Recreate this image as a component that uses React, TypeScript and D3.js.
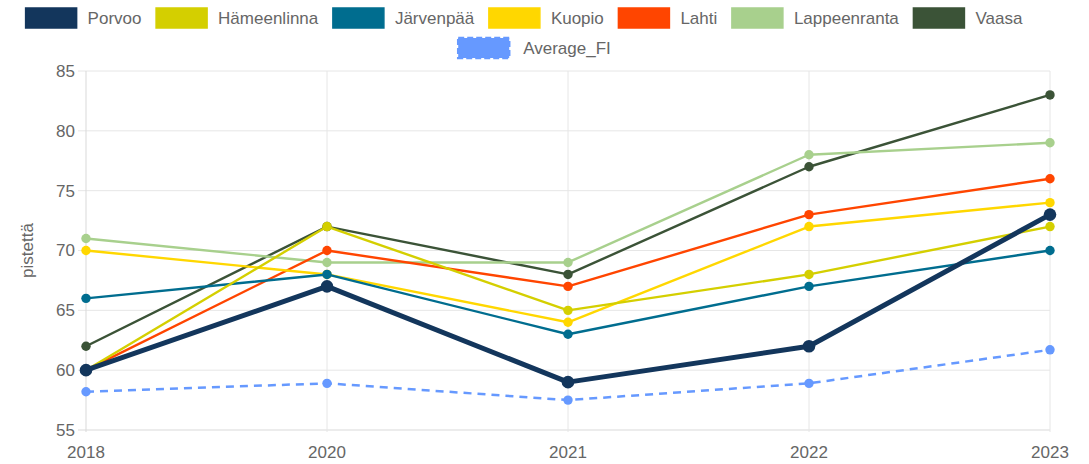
import React, { useEffect, useRef } from "react";
import * as d3 from "d3";

const years = ["2018", "2020", "2021", "2022", "2023"];
const seriesNames = ["Porvoo", "Hämeenlinna", "Järvenpää", "Kuopio", "Lahti", "Lappeenranta", "Vaasa", "Average_FI"];
const porvoo = [60, 67, 59, 62, 73];
const hameenlinna = [60, 72, 65, 68, 72];
const jarvenpaa = [66, 68, 63, 67, 70];
const kuopio = [70, 68, 64, 72, 74];
const lahti = [60, 70, 67, 73, 76];
const lappeenranta = [71, 69, 69, 78, 79];
const vaasa = [62, 72, 68, 77, 83];
const averageFI = [58.2, 58.9, 57.5, 58.9, 61.7];
const yTicks = [55, 60, 65, 70, 75, 80, 85];

const seriesValues = [porvoo, hameenlinna, jarvenpaa, kuopio, lahti, lappeenranta, vaasa, averageFI];
const colors = ["#13365c", "#d4cf00", "#006d8f", "#ffd700", "#ff4500", "#a8d08d", "#3b5337", "#6699ff"];

const W = 1089;
const H = 464;
const FONT = "'Liberation Sans', Arial, sans-serif";

export default function App() {
  const ref = useRef<SVGSVGElement>(null);

  useEffect(() => {
    const svg = d3.select(ref.current!);
    svg.selectAll("*").remove();

    const left = 86, right = 1050, top = 71, bottom = 430;
    const x = d3.scalePoint<string>().domain(years).range([left, right]);
    const y = d3.scaleLinear().domain([55, 85]).range([bottom, top]);

    const g = svg.append("g");

    // grid
    g.selectAll("line.hg").data(yTicks).enter().append("line")
      .attr("x1", left - 8).attr("x2", right)
      .attr("y1", (d) => y(d)).attr("y2", (d) => y(d))
      .attr("stroke", (d) => (d === 55 ? "#d9d9d9" : "#e6e6e6")).attr("stroke-width", 1);
    g.selectAll("line.vg").data(years).enter().append("line")
      .attr("x1", (d) => x(d)!).attr("x2", (d) => x(d)!)
      .attr("y1", top).attr("y2", bottom + 2)
      .attr("stroke", (d, i) => (i === 0 ? "#d9d9d9" : "#e6e6e6")).attr("stroke-width", 1);

    // y tick labels
    g.selectAll("text.yt").data(yTicks).enter().append("text")
      .attr("x", 75).attr("y", (d) => y(d)).attr("dy", "0.35em")
      .attr("text-anchor", "end").attr("font-family", FONT).attr("font-size", 17)
      .attr("fill", "#666").text((d) => String(d));

    // x tick labels
    g.selectAll("text.xt").data(years).enter().append("text")
      .attr("x", (d) => x(d)!).attr("y", 458)
      .attr("text-anchor", "middle").attr("font-family", FONT).attr("font-size", 17)
      .attr("fill", "#666").text((d) => d);

    // y title
    g.append("text")
      .attr("transform", `translate(33,${(top + bottom) / 2}) rotate(-90)`)
      .attr("text-anchor", "middle").attr("font-family", FONT).attr("font-size", 17)
      .attr("fill", "#666").text("pistettä");

    const line = d3.line<number>().x((_, i) => x(years[i])!).y((d) => y(d));

    // draw in reverse order so Porvoo ends on top
    for (let s = seriesValues.length - 1; s >= 0; s--) {
      const vals = seriesValues[s];
      const isP = s === 0;
      const isAvg = s === 7;
      const sg = g.append("g");
      sg.append("path").attr("d", line(vals)!)
        .attr("fill", "none").attr("stroke", colors[s])
        .attr("stroke-width", isP ? 5 : isAvg ? 2.5 : 2.4)
        .attr("stroke-dasharray", isAvg ? "8,6" : null)
        .attr("stroke-linejoin", "round");
      sg.selectAll("circle").data(vals).enter().append("circle")
        .attr("cx", (_, i) => x(years[i])!).attr("cy", (d) => y(d))
        .attr("r", isP ? 6.3 : 4.7).attr("fill", colors[s]);
    }

    // legend
    const boxW = 53, boxH = 22, gapText = 10, gapItem = 13.6;
    const rows = [[0, 1, 2, 3, 4, 5, 6], [7]];
    const rowY = [18, 48];
    const rowC = [523.5, 534];
    const lg = svg.append("g");
    rows.forEach((row, ri) => {
      const gt = ri === 1 ? 13 : gapText;
      const items = row.map((si) => {
        const t = lg.append("text").attr("font-family", FONT).attr("font-size", 17)
          .attr("fill", "#666").text(seriesNames[si]);
        const w = (t.node() as SVGTextElement).getComputedTextLength();
        return { si, t, w };
      });
      const total = items.reduce((a, it) => a + boxW + gt + it.w, 0) + gapItem * (items.length - 1);
      let cx = rowC[ri] - total / 2;
      items.forEach((it) => {
        const isAvg = it.si === 7;
        lg.append("rect").attr("x", cx + 1).attr("y", rowY[ri] - boxH / 2 + 1)
          .attr("width", boxW - 2).attr("height", boxH - 2)
          .attr("fill", colors[it.si]).attr("stroke", colors[it.si])
          .attr("stroke-width", isAvg ? 2.5 : 1.5)
          .attr("stroke-dasharray", isAvg ? "6,3" : null);
        it.t.attr("x", cx + boxW + gt).attr("y", rowY[ri]).attr("dy", "0.36em");
        cx += boxW + gt + it.w + gapItem;
      });
    });
  }, []);

  return (
    <svg ref={ref} width={W} height={H}
      style={{ position: "absolute", left: 0, top: 0, background: "#fff" }} />
  );
}
